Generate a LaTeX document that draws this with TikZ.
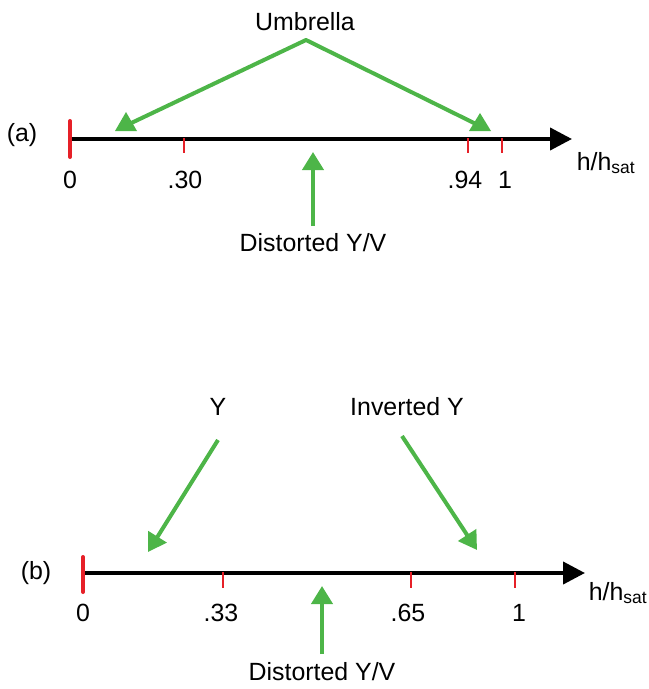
\documentclass[tikz,border=0pt]{standalone}
\usepackage{fontspec}
\setmainfont{Liberation Sans}
\usepackage{xcolor}
\usepackage{tikz}
\usetikzlibrary{arrows.meta, positioning, calc}
\definecolor{verdefreccia}{RGB}{77,181,72}
\definecolor{rossotacca}{RGB}{230,32,40}
\tikzset{
    asse/.style={black, line width=4bp, -{Triangle[length=22bp, width=22bp]}},
    tacca/.style={rossotacca, line width=2.8bp},
    taccazero/.style={rossotacca, line width=4bp, line cap=round},
    freccia/.style={verdefreccia, line width=4bp, -{Triangle[length=18bp, width=21bp]}},
    lineaverde/.style={verdefreccia, line width=4bp},
    testo/.style={font=\fontsize{25}{28}\selectfont, inner sep=0pt}
}

\begin{document}
\begin{tikzpicture}[x=1bp, y=-1bp]
    \useasboundingbox (0,0) rectangle (649,689);

    % Pannello (a)
    \node[testo] (laba) at (22,135) {(a)};
    \coordinate (azero) at (70,139);
    \coordinate (afine) at (572,139);
    \draw[asse] (azero) -- (afine);
    \draw[taccazero] (70,121) -- (70,157);
    \foreach \x in {184, 468, 502}{
        \draw[tacca] (\x,138) -- (\x,153);
    }
    \foreach \x/\t/\n in {70/0/zero, 185/.30/trenta, 465/.94/novqu, 505/1/uno}{
        \node[testo] (a\n) at (\x,180) {\t};
    }
    \node[testo] (ahsat) at (606,163) {h/h\textsubscript{sat}};

    % Umbrella: frecce con punta dritta
    \node[testo] (umb) at (305,22) {Umbrella};
    \coordinate (umbtop) at (306,40);
    \coordinate (umbsx) at (125,126);
    \coordinate (umbdx) at (480,126);
    \draw[lineaverde, line join=round] (umbsx) -- (umbtop) -- (umbdx);
    \fill[verdefreccia] (115,131) -- (126,112) -- (137,131) -- cycle;
    \fill[verdefreccia] (469,131) -- (480,113) -- (491,131) -- cycle;

    % Distorted (a)
    \node[testo] (dista) at (313,243) {Distorted Y/V};
    \coordinate (distacoda) at (313,226);
    \coordinate (distapunta) at (313,152);
    \draw[freccia] (distacoda) -- (distapunta);

    % Pannello (b)
    \node[testo] (labb) at (36,573) {(b)};
    \coordinate (bzero) at (83,573);
    \coordinate (bfine) at (585,573);
    \draw[asse] (bzero) -- (bfine);
    \draw[taccazero] (83,557) -- (83,592);
    \foreach \x in {223, 411, 515}{
        \draw[tacca] (\x,572) -- (\x,588);
    }
    \foreach \x/\t/\n in {83/0/zero, 221/.33/trentatre, 408/.65/sessantacinque, 519/1/uno}{
        \node[testo] (b\n) at (\x,613) {\t};
    }
    \node[testo] (bhsat) at (618,593) {h/h\textsubscript{sat}};

    % Y e Inverted Y
    \node[testo] (ipsilon) at (218,407) {Y};
    \node[testo] (invy) at (407,407) {Inverted Y};
    \coordinate (ycoda) at (218,440);
    \coordinate (ypunta) at (148,552);
    \coordinate (invcoda) at (402,436);
    \coordinate (invpunta) at (477,550);
    \draw[freccia] (ycoda) -- (ypunta);
    \draw[freccia] (invcoda) -- (invpunta);

    % Distorted (b)
    \node[testo] (distb) at (322,672) {Distorted Y/V};
    \coordinate (distbcoda) at (322,654);
    \coordinate (distbpunta) at (322,586);
    \draw[freccia] (distbcoda) -- (distbpunta);
\end{tikzpicture}
\end{document}
